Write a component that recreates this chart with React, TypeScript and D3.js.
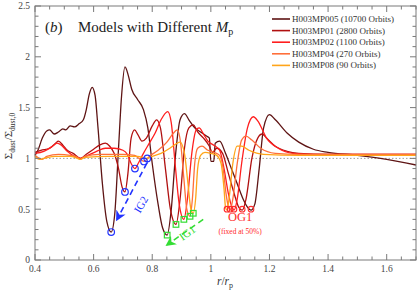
import * as d3 from "d3";

type Pt = [number, number];

// r / r_p , Sigma_dust / Sigma_dust,0
const mp005: Pt[] = [
  [0.4, 1.03], [0.41, 1.08], [0.425, 1.2], [0.44, 1.27], [0.45, 1.28], [0.465, 1.24],
  [0.48, 1.26], [0.495, 1.29], [0.505, 1.28], [0.52, 1.32], [0.535, 1.31], [0.55, 1.34],
  [0.565, 1.38], [0.575, 1.48], [0.585, 1.63], [0.595, 1.7], [0.605, 1.62], [0.615, 1.3],
  [0.63, 0.75], [0.645, 0.38], [0.66, 0.275], [0.672, 0.45], [0.685, 1.1], [0.695, 1.6],
  [0.707, 1.9], [0.718, 1.82], [0.73, 1.68], [0.75, 1.58], [0.77, 1.48], [0.785, 1.3],
  [0.8, 0.95], [0.82, 0.55], [0.835, 0.32], [0.851, 0.245], [0.865, 0.5], [0.88, 1.05],
  [0.895, 1.38], [0.91, 1.44], [0.925, 1.38], [0.945, 1.3], [0.965, 1.26], [0.985, 1.22],
  [0.995, 1.2], [1.0, 0.97], [1.01, 0.97], [1.015, 1.15], [1.03, 1.17], [1.05, 1.05],
  [1.07, 0.9], [1.09, 0.75], [1.11, 0.6], [1.125, 0.52], [1.137, 0.49], [1.15, 0.55],
  [1.165, 0.9], [1.18, 1.3], [1.2, 1.43], [1.22, 1.38], [1.26, 1.25], [1.3, 1.16],
  [1.35, 1.09], [1.4, 1.06], [1.5, 1.03], [1.6, 0.99], [1.7, 0.935],
];
const mp01: Pt[] = [
  [0.4, 1.06], [0.42, 1.08], [0.45, 1.1], [0.47, 1.15], [0.48, 1.17], [0.495, 1.13],
  [0.51, 1.08], [0.53, 1.05], [0.555, 1.0], [0.575, 1.04], [0.6, 1.09], [0.62, 1.13],
  [0.64, 1.15], [0.655, 1.12], [0.67, 1.05], [0.685, 0.9], [0.697, 0.72], [0.707, 0.67],
  [0.717, 0.85], [0.728, 1.2], [0.74, 1.28], [0.75, 1.24], [0.765, 1.17], [0.78, 1.2],
  [0.8, 1.32], [0.815, 1.38], [0.828, 1.3], [0.845, 0.9], [0.862, 0.5], [0.881, 0.35],
  [0.895, 0.6], [0.91, 1.1], [0.925, 1.3], [0.94, 1.33], [0.955, 1.26], [0.975, 1.2],
  [0.995, 1.12], [1.005, 1.06], [1.02, 1.1], [1.04, 1.05], [1.06, 0.85], [1.08, 0.65],
  [1.095, 0.52], [1.107, 0.49], [1.12, 0.6], [1.14, 1.0], [1.16, 1.2], [1.175, 1.24],
  [1.19, 1.2], [1.22, 1.12], [1.26, 1.07], [1.3, 1.05], [1.4, 1.04], [1.7, 1.04],
];
const mp02: Pt[] = [
  [0.4, 1.05], [0.43, 1.07], [0.46, 1.12], [0.475, 1.15], [0.49, 1.13], [0.51, 1.07],
  [0.535, 1.02], [0.555, 1.0], [0.58, 1.03], [0.61, 1.07], [0.64, 1.1], [0.67, 1.1],
  [0.7, 1.08], [0.715, 1.04], [0.728, 0.95], [0.741, 0.9], [0.752, 0.95], [0.77, 1.05],
  [0.79, 1.15], [0.81, 1.25], [0.83, 1.38], [0.853, 1.46], [0.865, 1.35], [0.878, 0.95],
  [0.892, 0.55], [0.908, 0.4], [0.92, 0.6], [0.935, 1.05], [0.95, 1.28], [0.96, 1.3],
  [0.975, 1.24], [0.99, 1.17], [1.01, 1.13], [1.03, 1.08], [1.045, 0.9], [1.06, 0.65],
  [1.072, 0.52], [1.079, 0.49], [1.09, 0.6], [1.105, 0.95], [1.125, 1.3], [1.145, 1.41],
  [1.16, 1.37], [1.19, 1.2], [1.23, 1.1], [1.28, 1.05], [1.35, 1.04], [1.7, 1.04],
];
const mp04: Pt[] = [
  [0.4, 1.03], [0.415, 1.0], [0.425, 0.99], [0.44, 1.02], [0.48, 1.04], [0.52, 1.03],
  [0.545, 1.01], [0.555, 0.99], [0.57, 1.02], [0.62, 1.04], [0.7, 1.04], [0.74, 1.03],
  [0.755, 1.0], [0.772, 0.97], [0.79, 1.02], [0.82, 1.08], [0.85, 1.16], [0.87, 1.24],
  [0.885, 1.28], [0.897, 1.15], [0.908, 0.8], [0.918, 0.5], [0.929, 0.43], [0.937, 0.6],
  [0.945, 0.95], [0.955, 1.1], [0.97, 1.12], [0.99, 1.08], [1.01, 1.06], [1.03, 1.03],
  [1.042, 0.9], [1.052, 0.65], [1.06, 0.52], [1.066, 0.49], [1.075, 0.6], [1.09, 0.95],
  [1.105, 1.18], [1.12, 1.22], [1.14, 1.18], [1.17, 1.1], [1.22, 1.05], [1.3, 1.04],
  [1.7, 1.04],
];
const mp08: Pt[] = [
  [0.4, 1.02], [0.415, 0.99], [0.43, 1.0], [0.47, 1.02], [0.52, 1.02], [0.545, 1.0],
  [0.555, 0.99], [0.57, 1.01], [0.65, 1.02], [0.75, 1.02], [0.783, 1.0], [0.8, 1.02],
  [0.83, 1.05], [0.86, 1.1], [0.88, 1.14], [0.895, 1.16], [0.91, 1.05], [0.922, 0.75],
  [0.932, 0.5], [0.94, 0.46], [0.948, 0.6], [0.955, 0.9], [0.965, 1.03], [0.98, 1.06],
  [1.0, 1.05], [1.02, 1.03], [1.035, 0.95], [1.045, 0.7], [1.05, 0.52], [1.055, 0.49],
  [1.062, 0.6], [1.075, 0.95], [1.09, 1.12], [1.105, 1.12], [1.13, 1.08], [1.18, 1.04],
  [1.3, 1.03], [1.7, 1.03],
];

const seriesNames = [
  "H003MP005 (10700 Orbits)",
  "H003MP01 (2800 Orbits)",
  "H003MP02 (1100 Orbits)",
  "H003MP04 (270 Orbits)",
  "H003MP08 (90 Orbits)",
];
const seriesData = [mp005, mp01, mp02, mp04, mp08];
const seriesColors = ["#5e1414", "#b01010", "#ff1e1e", "#ff6f3a", "#ffa51a"];

const ig2Points: Pt[] = [[0.66, 0.275], [0.707, 0.67], [0.741, 0.9], [0.772, 0.97], [0.783, 1.0]];
const ig1Points: Pt[] = [[0.851, 0.245], [0.881, 0.35], [0.908, 0.4], [0.929, 0.43], [0.94, 0.46]];
const og1Points: Pt[] = [[1.055, 0.5], [1.066, 0.5], [1.079, 0.5], [1.107, 0.5], [1.137, 0.5]];

const xTicks = [0.4, 0.6, 0.8, 1, 1.2, 1.4, 1.6];
const yTicks = [0, 0.5, 1, 1.5, 2, 2.5];

const W = 419;
const H = 292;
const serif = "'Liberation Serif', 'DejaVu Serif', serif";

export default function App() {
  const x = d3.scaleLinear().domain([0.4, 1.7]).range([35, 416]);
  const y = d3.scaleLinear().domain([0, 2.5]).range([260, 6]);
  const line = d3
    .line<Pt>()
    .x((d) => x(d[0]))
    .y((d) => y(d[1]))
    .curve(d3.curveMonotoneX);

  const xMinor = d3.range(0.4, 1.7001, 0.05).filter((v) => !xTicks.some((t) => Math.abs(t - v) < 1e-6));
  const yMinor = d3.range(0, 2.5001, 0.1).filter((v) => !yTicks.some((t) => Math.abs(t - v) < 1e-6));
  const axis = "#7a7a7a";
  const [x0, x1] = x.range();
  const [y0, y1] = y.range();

  const arrow = (from: Pt, to: Pt, color: string, id: string) => (
    <g>
      <defs>
        <marker id={id} viewBox="0 0 10 10" refX="8" refY="5" markerWidth="6.5" markerHeight="6.5" orient="auto">
          <path d="M0,0 L10,5 L0,10 L3,5 Z" fill={color} />
        </marker>
      </defs>
      <line
        x1={x(from[0])} y1={y(from[1])} x2={x(to[0])} y2={y(to[1])}
        stroke={color} strokeWidth={1.6} strokeDasharray="6,4" markerEnd={`url(#${id})`}
      />
    </g>
  );

  return (
    <svg width={W} height={H} style={{ position: "absolute", left: 0, top: 0, background: "#fff" }} fontFamily={serif}>
      {/* reference line */}
      <line x1={x0} x2={x1} y1={y(1)} y2={y(1)} stroke="#888" strokeWidth={0.8} strokeDasharray="1.5,2" />

      {seriesData.map((d, i) => (
        <path key={i} d={line(d) ?? ""} fill="none" stroke={seriesColors[i]} strokeWidth={1.3} />
      ))}

      {/* gap markers */}
      {ig2Points.map((p, i) => (
        <circle key={"b" + i} cx={x(p[0])} cy={y(p[1])} r={3.3} fill="none" stroke="#2233ff" strokeWidth={1.2} />
      ))}
      {ig1Points.map((p, i) => (
        <rect key={"g" + i} x={x(p[0]) - 2.8} y={y(p[1]) - 2.8} width={5.6} height={5.6} fill="none" stroke="#33dd33" strokeWidth={1.2} />
      ))}
      {og1Points.map((p, i) => (
        <circle key={"r" + i} cx={x(p[0])} cy={y(p[1])} r={2.8} fill="none" stroke="#ff2a2a" strokeWidth={1.1} />
      ))}

      {arrow([0.782, 0.955], [0.68, 0.4], "#2233ff", "arrB")}
      {arrow([0.974, 0.4], [0.851, 0.15], "#33dd33", "arrG")}
      <text
        transform={`translate(${x(0.765)},${y(0.54)}) rotate(-60)`}
        textAnchor="middle" dominantBaseline="middle" fontSize={11} fill="#2233ff"
      >IG2</text>
      <text
        transform={`translate(${x(0.922)},${y(0.256)}) rotate(-35)`}
        textAnchor="middle" dominantBaseline="middle" fontSize={11} fill="#33dd33"
      >IG1</text>
      <text x={x(1.1)} y={y(0.38)} textAnchor="middle" fontSize={12.5} fill="#ff2a2a">OG1</text>
      <text x={x(1.1)} y={y(0.26)} textAnchor="middle" fontSize={7.5} fill="#ff2a2a">(fixed at 50%)</text>

      {/* frame */}
      <rect x={x0} y={y1} width={x1 - x0} height={y0 - y1} fill="none" stroke={axis} strokeWidth={1} />
      {xTicks.map((t) => (
        <g key={"xt" + t}>
          <line x1={x(t)} x2={x(t)} y1={y0} y2={y0 - 6} stroke={axis} />
          <line x1={x(t)} x2={x(t)} y1={y1} y2={y1 + 6} stroke={axis} />
          <text x={x(t)} y={272} textAnchor="middle" fontSize={9.5} fill="#444">{t === 1 ? "1" : d3.format(".1f")(t)}</text>
        </g>
      ))}
      {xMinor.map((t) => (
        <g key={"xm" + t}>
          <line x1={x(t)} x2={x(t)} y1={y0} y2={y0 - 3.5} stroke={axis} />
          <line x1={x(t)} x2={x(t)} y1={y1} y2={y1 + 3.5} stroke={axis} />
        </g>
      ))}
      {yTicks.map((t) => (
        <g key={"yt" + t}>
          <line x1={x0} x2={x0 + 6} y1={y(t)} y2={y(t)} stroke={axis} />
          <line x1={x1} x2={x1 - 6} y1={y(t)} y2={y(t)} stroke={axis} />
          <text x={30} y={y(t) + 3.3} textAnchor="end" fontSize={9.5} fill="#444">{String(t)}</text>
        </g>
      ))}
      {yMinor.map((t) => (
        <g key={"ym" + t}>
          <line x1={x0} x2={x0 + 3.5} y1={y(t)} y2={y(t)} stroke={axis} />
          <line x1={x1} x2={x1 - 3.5} y1={y(t)} y2={y(t)} stroke={axis} />
        </g>
      ))}

      {/* axis labels */}
      <text x={225} y={285} textAnchor="middle" fontSize={11.5} fill="#333">
        <tspan fontStyle="italic">r</tspan>/<tspan fontStyle="italic">r</tspan>
        <tspan fontSize={8} dy={3}>p</tspan>
      </text>
      <text transform="translate(12,136) rotate(-90)" textAnchor="middle" fontSize={11} fill="#333">
        Σ<tspan fontSize={7.5} dy={2.5}>dust</tspan>
        <tspan dy={-2.5}>/Σ</tspan>
        <tspan fontSize={7.5} dy={2.5}>dust,0</tspan>
      </text>

      {/* title */}
      <text x={45} y={32} fontSize={15} fill="#222">
        (<tspan fontStyle="italic">b</tspan>)
        <tspan x={78}>Models with Different </tspan>
        <tspan fontStyle="italic">M</tspan>
        <tspan fontSize={10} dy={3}>p</tspan>
      </text>

      {/* legend */}
      {seriesNames.map((n, i) => (
        <g key={"lg" + i} transform={`translate(272,${19 + i * 11.6})`}>
          <line x1={0} x2={18} y1={0} y2={0} stroke={seriesColors[i]} strokeWidth={1.6} />
          <text x={20} y={3} fontSize={9} fill="#333">{n}</text>
        </g>
      ))}
    </svg>
  );
}
